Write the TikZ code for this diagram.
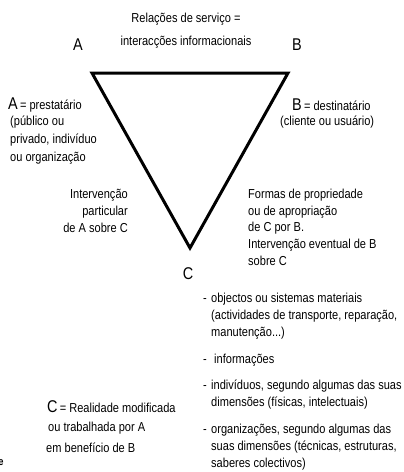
\documentclass[tikz,border=0pt]{standalone}
\usepackage{fontspec}
\setmainfont{Liberation Sans}[FakeStretch=0.85]
\newcommand{\bulletdash}[1]{\makebox[#1][l]{-}}
\begin{document}
\begin{tikzpicture}[x=1pt,y=-1pt,
  font=\fontsize{13}{15}\selectfont,
  lbl/.style={inner sep=0pt, anchor=west},
  rlbl/.style={inner sep=0pt, anchor=east},
  clbl/.style={inner sep=0pt, anchor=center},
  big/.style={inner sep=0pt, font=\fontsize{17}{19}\selectfont},
  tri/.style={line width=3pt, line join=miter}]
\useasboundingbox (0,0) rectangle (404,472);
% triangle
\coordinate (TL) at (92,73);
\coordinate (TR) at (288,73);
\coordinate (BV) at (190,248);
\draw[tri] (TL) -- (TR) -- (BV) -- cycle;
% top
\node[clbl] (rel1) at (186,19) {Relações de serviço =};
\node[clbl] (rel2) at (186,42) {interacções informacionais};
\node[big] (A) at (78,45) {A};
\node[big] (B) at (297,45) {B};
% A description
\node[lbl] (a1) at (8,105) {{\fontsize{17}{19}\selectfont A}\,= prestatário};
\node[lbl] (a2) at (10,122) {(público ou};
\node[lbl] (a3) at (10,140) {privado, indivíduo};
\node[lbl] (a4) at (10,158) {ou organização};
% B description
\node[lbl] (b1) at (292,105) {{\fontsize{17}{19}\selectfont B}\,= destinatário};
\node[lbl] (b2) at (280,122) {(cliente ou usuário)};
% left intervention
\node[rlbl] (i1) at (128,195) {Intervenção};
\node[rlbl] (i2) at (128,212) {particular};
\node[rlbl] (i3) at (128,228) {de A sobre C};
% right formas
\node[lbl] (f1) at (248,195) {Formas de propriedade};
\node[lbl] (f2) at (248,212) {ou de apropriação};
\node[lbl] (f3) at (248,228) {de C por B.};
\node[lbl] (f4) at (248,245) {Intervenção eventual de B};
\node[lbl] (f5) at (248,261) {sobre C};
% C
\node[big] (C) at (188,274) {C};
% list
\node[lbl] (l1) at (203,299) {\bulletdash{8pt}objectos ou sistemas materiais};
\node[lbl] (l1b) at (211,316) {(actividades de transporte, reparação,};
\node[lbl] (l1c) at (211,333) {manutenção...)};
\node[lbl] (l2) at (203,360) {\bulletdash{11pt}informações};
\node[lbl] (l3) at (203,386) {\bulletdash{8pt}indivíduos, segundo algumas das suas};
\node[lbl] (l3b) at (211,403) {dimensões (físicas, intelectuais)};
\node[lbl] (l4) at (203,430) {\bulletdash{8pt}organizações, segundo algumas das};
\node[lbl] (l4b) at (211,447) {suas dimensões (técnicas, estruturas,};
\node[lbl] (l4c) at (211,464) {saberes colectivos)};
% C description
\node[lbl] (c1) at (47,407) {{\fontsize{17}{19}\selectfont C}\,= Realidade modificada};
\node[lbl] (c2) at (48,428) {ou trabalhada por A};
\node[lbl] (c3) at (46,448) {em benefício de B};
% edge fragment
\node[inner sep=0pt, font=\bfseries\fontsize{11}{12}\selectfont] (frag) at (1,463) {e};
\end{tikzpicture}
\end{document}
